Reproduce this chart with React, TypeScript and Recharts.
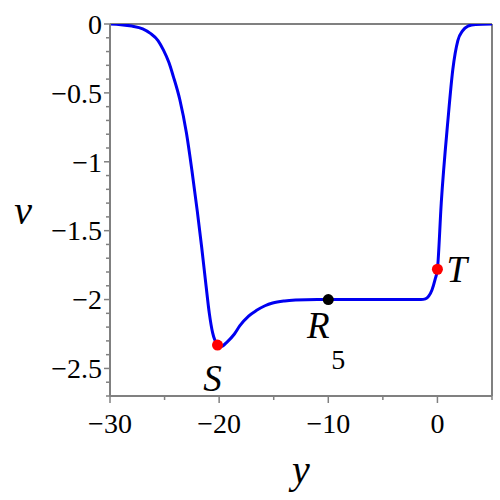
import React from 'react';
import { ComposedChart, Line, Scatter, XAxis, YAxis, ReferenceLine } from 'recharts';

// curve v(y)
const yVals = [
  -30, -29, -28, -27, -26.3, -25.6, -25.1, -24.6, -24.2, -23.6, -23, -22.5, -22, -21.6, -21.2,
  -20.9, -20.6, -20.2, -19.8, -19.3, -18.6, -18.1, -17.3, -16.6, -15.8, -15.1, -14, -13, -11,
  -10, -5, -1.5, -1.1, -0.8, -0.5, -0.2, 0, 0.35, 0.96, 1.41, 1.87, 2.3, 2.8, 3.5, 5,
];
const vVals = [
  0, -0.005, -0.015, -0.035, -0.068, -0.12, -0.19, -0.28, -0.38, -0.55, -0.79, -1.06, -1.36, -1.62, -1.9,
  -2.1, -2.24, -2.32, -2.34, -2.31, -2.25, -2.19, -2.12, -2.08, -2.045, -2.025, -2.01, -2.004, -2.0,
  -2.0, -2.0, -2.0, -1.995, -1.975, -1.93, -1.85, -1.78, -1.3, -0.7, -0.33, -0.12, -0.05, -0.015, -0.003, 0,
];

// marked points
const pointNames = ['S', 'R', 'T'];
const pointY = [-20.15, -10, 0];
const pointV = [-2.33, -2.0, -1.78];
const pointColors = ['#ff0000', '#000000', '#ff0000'];

const xTicks = [-30, -25, -20, -15, -10, -5, 0, 5];
const xLabelled = [-30, -20, -10, 0];
const vTicks = [
  0, -0.1, -0.2, -0.3, -0.4, -0.5, -0.6, -0.7, -0.8, -0.9, -1, -1.1, -1.2, -1.3, -1.4,
  -1.5, -1.6, -1.7, -1.8, -1.9, -2, -2.1, -2.2, -2.3, -2.4, -2.5, -2.6, -2.7,
];
const vLabelled = [0, -0.5, -1, -1.5, -2, -2.5];

const curve = yVals.map((x, i) => ({ x, v: vVals[i] }));
const points = pointNames.map((name, i) => ({ name, x: pointY[i], v: pointV[i], color: pointColors[i] }));

const serif = 'Liberation Serif';
const axisGray = '#808080';

const fmt = (n: number) => (n < 0 ? '\u2212' + Math.abs(n) : String(n));

// force the serif face on a text node
const serifRef = (el: any) => {
  if (el) el.style.setProperty('font-family', serif, 'important');
};

const SerifText = ({ italic, size, children, ...rest }: any) => (
  <text
    ref={serifRef}
    fontFamily={serif}
    fontStyle={italic ? 'italic' : 'normal'}
    fontSize={size}
    fill="#000"
    {...rest}
  >
    {children}
  </text>
);

const YTick = (props: any) => {
  const { x, y, payload } = props;
  const major = vLabelled.some((t) => Math.abs(t - payload.value) < 1e-6);
  return (
    <g>
      <line x1={x - (major ? 6 : 4)} x2={x} y1={y} y2={y} stroke={axisGray} strokeWidth={1.5} />
      {major && (
        <SerifText x={x - 8} y={y} dy="0.35em" textAnchor="end" size={28}>
          {fmt(payload.value)}
        </SerifText>
      )}
    </g>
  );
};

const XTick = (props: any) => {
  const { x, y, payload } = props;
  const major = xLabelled.includes(payload.value);
  return (
    <g>
      <line x1={x} x2={x} y1={y} y2={y + (major ? 7 : 4)} stroke={axisGray} strokeWidth={1.5} />
      {major && (
        <SerifText x={x} y={y + 37} textAnchor="middle" size={28}>
          {fmt(payload.value)}
        </SerifText>
      )}
    </g>
  );
};

const PointShape = (props: any) => {
  const { cx, cy } = props;
  const p = props.payload ?? props;
  return (
    <g>
      <circle cx={cx} cy={cy} r={5.5} fill={p.color} />
      {p.name === 'S' && (
        <SerifText x={cx - 5} y={cy + 46} textAnchor="middle" italic size={37}>S</SerifText>
      )}
      {p.name === 'R' && (
        <g>
          <SerifText x={cx - 10} y={cy + 38} textAnchor="middle" italic size={37}>R</SerifText>
          <SerifText x={cx + 10} y={cy + 69} textAnchor="middle" size={28}>5</SerifText>
        </g>
      )}
      {p.name === 'T' && (
        <SerifText x={cx + 9} y={cy + 13} textAnchor="start" italic size={37}>T</SerifText>
      )}
    </g>
  );
};

const XTitle = (props: any) => {
  const { x, y, width } = props.viewBox;
  return (
    <SerifText x={x + width / 2} y={y + 87} textAnchor="middle" italic size={40}>y</SerifText>
  );
};

const YTitle = (props: any) => {
  const { x, y, height } = props.viewBox;
  return (
    <SerifText x={x - 77} y={y + height / 2} dy="0.35em" textAnchor="end" italic size={40}>v</SerifText>
  );
};

export default function App() {
  return (
    <div style={{ position: 'absolute', left: 0, top: 0, background: '#fff' }}>
      <ComposedChart width={500} height={500} data={curve} margin={{ top: 24, right: 8, left: 109, bottom: 103 }}>
        <XAxis
          dataKey="x"
          type="number"
          domain={[-30, 5]}
          ticks={xTicks}
          interval={0}
          height={1}
          tickSize={0}
          tickMargin={0}
          tickLine={false}
          tick={XTick}
          axisLine={{ stroke: axisGray, strokeWidth: 2 }}
          allowDataOverflow
          label={{ content: XTitle }}
        />
        <YAxis
          dataKey="v"
          type="number"
          domain={[-2.7, 0]}
          ticks={vTicks}
          interval={0}
          width={1}
          tickSize={0}
          tickMargin={0}
          tickLine={false}
          tick={YTick}
          axisLine={{ stroke: axisGray, strokeWidth: 2 }}
          allowDataOverflow
          label={{ content: YTitle }}
        />
        <ReferenceLine y={0} stroke={axisGray} strokeWidth={2} />
        <ReferenceLine x={5} stroke={axisGray} strokeWidth={2} />
        <Line
          dataKey="v"
          type="monotone"
          stroke="#0000f0"
          strokeWidth={3}
          dot={false}
          activeDot={false}
          isAnimationActive={false}
        />
        <Scatter data={points} dataKey="v" shape={PointShape} isAnimationActive={false} />
      </ComposedChart>
    </div>
  );
}
